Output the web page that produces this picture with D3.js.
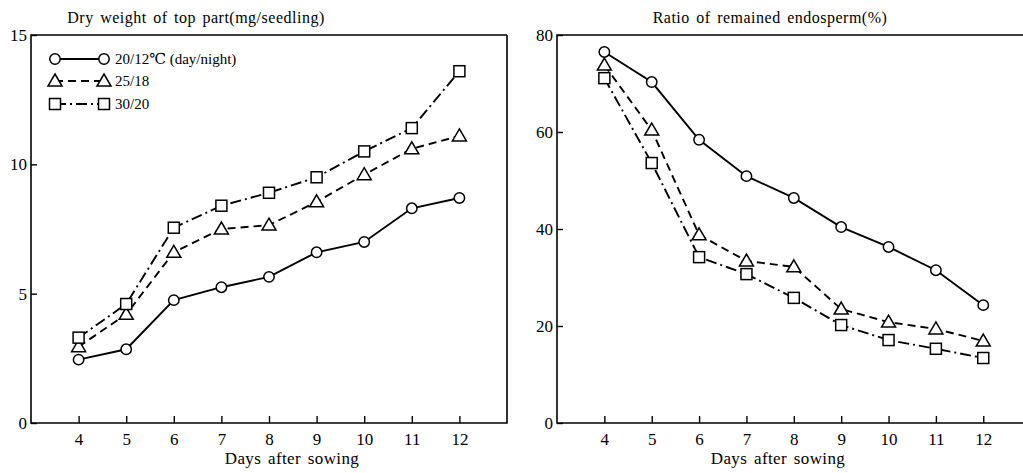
<!DOCTYPE html>
<html>
<head>
<meta charset="utf-8">
<script src="https://cdn.jsdelivr.net/npm/d3@7"></script>
<style>
  body { margin: 0; background: #fff; }
  svg { display: block; }
  svg text { font-family: "Liberation Serif", "Times New Roman", Times, "DejaVu Serif", serif; }
</style>
</head>
<body>
<svg width="1023" height="473"></svg>
<script>
// days after sowing
const days = [4, 5, 6, 7, 8, 9, 10, 11, 12];

// dry weight of top part (mg/seedling)
const dry20 = [2.45, 2.85, 4.75, 5.25, 5.65, 6.6, 7.0, 8.3, 8.7];
const dry25 = [2.95, 4.2, 6.6, 7.5, 7.65, 8.55, 9.6, 10.6, 11.1];
const dry30 = [3.3, 4.6, 7.55, 8.4, 8.9, 9.5, 10.5, 11.4, 13.6];

// ratio of remained endosperm (%)
const endo20 = [76.5, 70.3, 58.4, 50.9, 46.4, 40.4, 36.3, 31.5, 24.3];
const endo25 = [73.8, 60.4, 38.8, 33.4, 32.2, 23.5, 20.8, 19.4, 16.9];
const endo30 = [71.1, 53.6, 34.2, 30.7, 25.8, 20.2, 17.1, 15.3, 13.4];

const legendLabels = ["20/12℃ (day/night)", "25/18", "30/20"];
const dryTicks = [0, 5, 10, 15];
const endoTicks = [0, 20, 40, 60, 80];

const svg = d3.select("svg");
const serif = '"Liberation Serif", "Times New Roman", Times, serif';

// line style per treatment
const styles = [
  { shape: "circle", dash: null },
  { shape: "triangle", dash: "8,5" },
  { shape: "square", dash: "11,4,2,4" }
];

function marker(g, shape, x, y) {
  if (shape === "circle") {
    g.append("circle").attr("cx", x).attr("cy", y).attr("r", 5.2);
  } else if (shape === "triangle") {
    g.append("path").attr("d", `M${x},${y - 7}L${x + 7},${y + 5}L${x - 7},${y + 5}Z`);
  } else {
    g.append("rect").attr("x", x - 5.5).attr("y", y - 5.5).attr("width", 11).attr("height", 11);
  }
}

function panel(opts) {
  const x = d3.scaleLinear().domain(opts.xDomain).range(opts.xRange);
  const y = d3.scaleLinear().domain(opts.yDomain).range([423, 35]);
  const g = svg.append("g");

  // frame
  const [x0, x1] = opts.xRange;
  let d = `M${x1},35H${x0}V423H${x1}`;
  if (opts.rightBorder) d += "V35";
  g.append("path").attr("d", d).attr("fill", "none").attr("stroke", "#000").attr("stroke-width", 1.6);

  const xAxis = g.append("g")
    .attr("transform", "translate(0,423)")
    .call(d3.axisBottom(x).tickValues(days).tickSize(-7).tickSizeOuter(0).tickPadding(10));
  const yAxis = g.append("g")
    .attr("transform", `translate(${x0},0)`)
    .call(d3.axisLeft(y).tickValues(opts.yTicks).tickSize(-6).tickSizeOuter(0).tickPadding(4));
  [xAxis, yAxis].forEach(a => {
    a.attr("font-family", serif).attr("font-size", 17);
    a.select(".domain").remove();
    a.selectAll("line").attr("stroke", "#000").attr("stroke-width", 1.4);
    a.selectAll("text").attr("fill", "#000");
  });

  g.append("text").attr("x", opts.titleX).attr("y", 23).attr("text-anchor", "middle")
    .attr("font-family", serif).attr("font-size", 16)
    .style("letter-spacing", "0.5px").style("word-spacing", "2px")
    .text(opts.title);
  g.append("text").attr("x", opts.xlabX).attr("y", 464).attr("text-anchor", "middle")
    .attr("font-family", serif).attr("font-size", 17)
    .style("letter-spacing", "0.4px").style("word-spacing", "2px")
    .text("Days after sowing");

  const line = d3.line().x((v, i) => x(days[i])).y(v => y(v));
  opts.series.forEach((s, k) => {
    g.append("path").attr("d", line(s)).attr("fill", "none").attr("stroke", "#000")
      .attr("stroke-width", 1.9).attr("stroke-dasharray", styles[k].dash);
  });
  opts.series.forEach((s, k) => {
    const mg = g.append("g").attr("fill", "#fff").attr("stroke", "#000").attr("stroke-width", 1.5);
    s.forEach((v, i) => marker(mg, styles[k].shape, x(days[i]), y(v)));
  });
  return g;
}

const left = panel({
  xDomain: [3, 13], xRange: [31, 507], yDomain: [0, 15], yTicks: dryTicks, rightBorder: true,
  title: "Dry weight of top part(mg/seedling)", titleX: 196, xlabX: 292,
  series: [dry20, dry25, dry30]
});

panel({
  xDomain: [3, 12.86], xRange: [557, 1024], yDomain: [0, 80], yTicks: endoTicks, rightBorder: false,
  title: "Ratio of remained endosperm(%)", titleX: 770, xlabX: 778,
  series: [endo20, endo25, endo30]
});

// legend
const legY = [59, 81, 104];
legendLabels.forEach((t, k) => {
  const lg = left.append("g");
  lg.append("line").attr("x1", 55).attr("x2", 104).attr("y1", legY[k]).attr("y2", legY[k])
    .attr("stroke", "#000").attr("stroke-width", 1.9).attr("stroke-dasharray", styles[k].dash);
  const mg = lg.append("g").attr("fill", "#fff").attr("stroke", "#000").attr("stroke-width", 1.5);
  marker(mg, styles[k].shape, 55, legY[k]);
  marker(mg, styles[k].shape, 104, legY[k]);
  lg.append("text").attr("x", 115).attr("y", legY[k] + 5)
    .attr("font-family", serif).attr("font-size", 15).text(t);
});
</script>
</body>
</html>
